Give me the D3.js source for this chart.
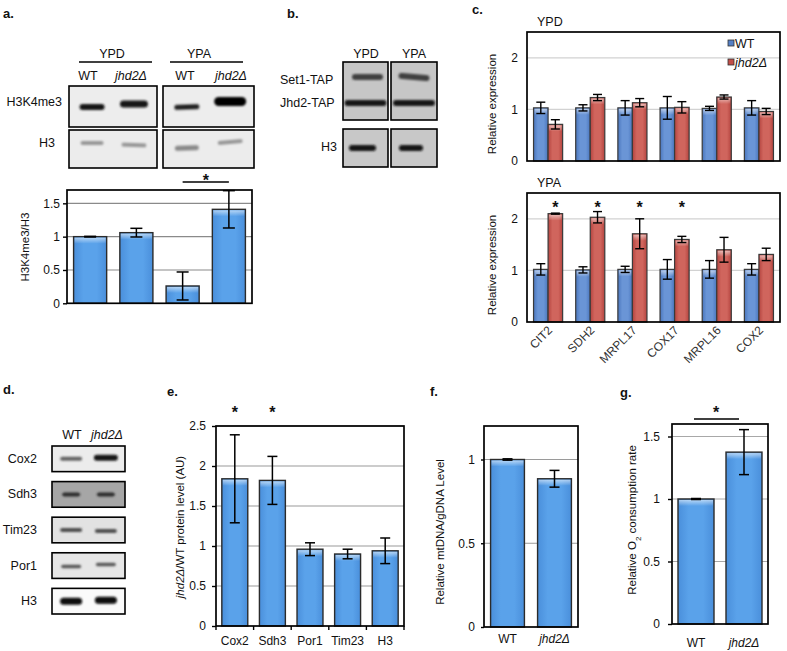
<!DOCTYPE html>
<html><head><meta charset="utf-8">
<script src="https://cdn.jsdelivr.net/npm/d3@7"></script>
<style>
body{margin:0;background:#fff}
svg{display:block}
text{font-family:"Liberation Sans",Arial,Helvetica,sans-serif}
</style>
</head><body>
<svg id="fig" width="787" height="651"></svg>
<script>
// ---------------- DATA ----------------
// Panel a (H3K4me3/H3 quantification)
const aCategories = ["YPD WT", "YPD jhd2Δ", "YPA WT", "YPA jhd2Δ"];
const aValues = [1.0, 1.06, 0.26, 1.41];
const aErrors = [0.005, 0.065, 0.21, 0.28];
const aTicks = [0, 0.5, 1, 1.5];

// Panel c (relative expression)
const cGenes = ["CIT2", "SDH2", "MRPL17", "COX17", "MRPL16", "COX2"];
const cSeries = ["WT", "jhd2Δ"];
const cYpdWT = [1.03, 1.03, 1.03, 1.03, 1.02, 1.03];
const cYpdWTErr = [0.11, 0.06, 0.14, 0.22, 0.04, 0.14];
const cYpdKO = [0.71, 1.23, 1.13, 1.04, 1.24, 0.96];
const cYpdKOErr = [0.09, 0.06, 0.08, 0.11, 0.04, 0.06];
const cYpaWT = [1.02, 1.01, 1.02, 1.02, 1.02, 1.02];
const cYpaWTErr = [0.11, 0.06, 0.06, 0.19, 0.17, 0.11];
const cYpaKO = [2.10, 2.03, 1.71, 1.60, 1.40, 1.31];
const cYpaKOErr = [0.01, 0.11, 0.29, 0.06, 0.24, 0.12];
const cYpaSig = [true, true, true, true, false, false];
const cTicks = [0, 1, 2];

// Panel e (protein level)
const eCategories = ["Cox2", "Sdh3", "Por1", "Tim23", "H3"];
const eValues = [1.84, 1.82, 0.96, 0.90, 0.94];
const eErrors = [0.55, 0.30, 0.08, 0.06, 0.16];
const eSig = [true, true, false, false, false];
const eTicks = [0, 0.5, 1, 1.5, 2, 2.5];

// Panel f (mtDNA/gDNA)
const fCategories = ["WT", "jhd2Δ"];
const fValues = [1.0, 0.885];
const fErrors = [0.004, 0.05];
const fTicks = [0, 0.5, 1];

// Panel g (O2 consumption)
const gCategories = ["WT", "jhd2Δ"];
const gValues = [1.0, 1.375];
const gErrors = [0.004, 0.18];
const gTicks = [0, 0.5, 1, 1.5];

// Blot band intensities (0..1 darkness) per lane
const aBlotK4 = [[0.92, 0.92], [0.9, 0.98]];
const aBlotH3 = [[0.5, 0.5], [0.55, 0.5]];
const bBlotSet1 = [0.8, 0.8];
const bBlotJhd2 = [0.93, 0.93];
const bBlotH3 = [0.94, 0.94];
const dProteins = ["Cox2", "Sdh3", "Tim23", "Por1", "H3"];
const dLanes = ["WT", "jhd2Δ"];
const dBlot = [[0.68, 0.92], [0.85, 0.85], [0.75, 0.75], [0.72, 0.72], [0.96, 0.97]];

// ---------------- SETUP ----------------
const FONT = '"Liberation Sans",Arial,Helvetica,sans-serif';
const svg = d3.select("#fig");
const defs = svg.append("defs");
const blur = defs.append("filter").attr("id", "blur")
  .attr("x", "-50%").attr("y", "-150%").attr("width", "200%").attr("height", "400%");
blur.append("feGaussianBlur").attr("stdDeviation", 1.1);

function hgrad(id, edge, mid) {
  const gr = defs.append("linearGradient").attr("id", id)
    .attr("x1", "0%").attr("x2", "100%").attr("y1", "0%").attr("y2", "0%");
  gr.append("stop").attr("offset", "0%").attr("stop-color", edge);
  gr.append("stop").attr("offset", "30%").attr("stop-color", mid);
  gr.append("stop").attr("offset", "70%").attr("stop-color", mid);
  gr.append("stop").attr("offset", "100%").attr("stop-color", edge);
}
hgrad("gBlue", "#4a8fdb", "#5aa2ea");
hgrad("gCBlue", "#4a76bd", "#6a95d6");
hgrad("gCRed", "#b4443f", "#d0655d");
const hl = defs.append("linearGradient").attr("id", "gHL")
  .attr("x1", "0").attr("x2", "0").attr("y1", "0").attr("y2", "1");
hl.append("stop").attr("offset", "0%").attr("stop-color", "#fff").attr("stop-opacity", 0.55);
hl.append("stop").attr("offset", "100%").attr("stop-color", "#fff").attr("stop-opacity", 0);

function txt(x, y, s, o = {}) {
  const t = svg.append("text").attr("x", x).attr("y", y).text(s)
    .attr("font-size", o.fs || 12).attr("fill", o.fill || "#111")
    .attr("text-anchor", o.anchor || "start");
  if (o.bold) t.attr("font-weight", "bold");
  if (o.italic) t.attr("font-style", "italic");
  return t;
}
function star(x, cy, fs = 16) {
  txt(x, cy + fs * 0.6, "*", { fs, anchor: "middle", bold: true });
}
function yLabel(x, cy, parts, fs = 11.5) {
  const t = svg.append("text").attr("transform", `translate(${x},${cy}) rotate(-90)`)
    .attr("text-anchor", "middle").attr("font-size", fs).attr("fill", "#111");
  parts.forEach(p => {
    const ts = t.append("tspan").text(p.t);
    if (p.i) ts.attr("font-style", "italic");
    if (p.sub) ts.attr("font-size", fs * 0.7).attr("baseline-shift", "sub");
  });
}

// generic frame + axis
function panel(o) {
  const g = svg.append("g").attr("transform", `translate(${o.left},${o.top})`);
  const y = d3.scaleLinear().domain([0, o.ymax]).range([o.h, 0]);
  const x = d3.scaleBand().domain(o.cats).range([0, o.w]).paddingInner(o.pad).paddingOuter(o.pad / 2);
  g.append("g").selectAll("line").data(o.ticks.filter(t => t > 0)).join("line")
    .attr("x1", 0).attr("x2", o.w).attr("y1", d => y(d)).attr("y2", d => y(d))
    .attr("stroke", o.gridColor).attr("stroke-width", 1.2);
  const ax = g.append("g").call(d3.axisLeft(y).tickValues(o.ticks).tickSize(o.tickSize)
    .tickPadding(o.tickPad).tickFormat(d => String(d)));
  ax.attr("font-family", FONT);
  ax.select(".domain").remove();
  ax.selectAll("text").attr("font-size", 12).attr("fill", "#111");
  ax.selectAll("line").attr("stroke", "#000").attr("stroke-width", 1.4);
  return { g, x, y };
}
function frame(p, w, h) {
  p.g.append("rect").attr("width", w).attr("height", h)
    .attr("fill", "none").attr("stroke", "#000").attr("stroke-width", 1.7);
}
function bars(g, data, xf, bw, y, fill, stroke, sw) {
  const b = g.append("g");
  b.selectAll("rect.bar").data(data).join("rect").attr("class", "bar")
    .attr("x", d => xf(d)).attr("width", bw)
    .attr("y", d => y(d.v)).attr("height", d => y(0) - y(d.v))
    .attr("fill", fill).attr("stroke", stroke).attr("stroke-width", sw);
  b.selectAll("rect.hl").data(data).join("rect").attr("class", "hl")
    .attr("x", d => xf(d) + 1).attr("width", bw - 2)
    .attr("y", d => y(d.v) + 1).attr("height", 6).attr("fill", "url(#gHL)");
}
function errs(g, data, cx, y, cap, sw = 1.5) {
  const e = g.append("g").attr("stroke", "#000").attr("stroke-width", sw);
  e.selectAll("line.v").data(data).join("line").attr("class", "v")
    .attr("x1", cx).attr("x2", cx).attr("y1", d => y(d.v + d.e)).attr("y2", d => y(d.v - d.e));
  e.selectAll("line.t").data(data).join("line").attr("class", "t")
    .attr("x1", d => cx(d) - cap / 2).attr("x2", d => cx(d) + cap / 2)
    .attr("y1", d => y(d.v + d.e)).attr("y2", d => y(d.v + d.e));
  e.selectAll("line.b").data(data).join("line").attr("class", "b")
    .attr("x1", d => cx(d) - cap / 2).attr("x2", d => cx(d) + cap / 2)
    .attr("y1", d => y(d.v - d.e)).attr("y2", d => y(d.v - d.e));
}

// blot helper
function blot(x, y, w, h, bg, bandsSpec) {
  const g = svg.append("g").attr("transform", `translate(${x},${y})`);
  g.append("rect").attr("width", w).attr("height", h).attr("fill", bg);
  const lanes = d3.scaleBand().domain(d3.range(bandsSpec.lanes)).range([0, w]).padding(0.1);
  g.selectAll("rect.band").data(bandsSpec.bands).join("rect").attr("class", "band")
    .attr("x", d => lanes(d.lane) + lanes.bandwidth() / 2 - d.w / 2 + (d.dx || 0))
    .attr("y", d => h / 2 + (d.dy || 0) - d.th / 2)
    .attr("width", d => d.w).attr("height", d => d.th)
    .attr("rx", d => d.th / 2)
    .attr("fill", d => d3.interpolateGreys(d.int))
    .attr("filter", "url(#blur)")
    .attr("transform", d => {
      const cx = lanes(d.lane) + lanes.bandwidth() / 2 + (d.dx || 0), cy = h / 2 + (d.dy || 0);
      return `rotate(${d.tilt || 0},${cx},${cy})`;
    });
  g.append("rect").attr("width", w).attr("height", h).attr("fill", "none")
    .attr("stroke", "#000").attr("stroke-width", 1.6);
}

// ---------------- PANEL A ----------------
txt(3, 18, "a.", { bold: true, fs: 13 });
txt(112, 58, "YPD", { anchor: "middle", fs: 12.5 });
txt(199, 58, "YPA", { anchor: "middle", fs: 12.5 });
svg.append("line").attr("x1", 79).attr("x2", 152).attr("y1", 62).attr("y2", 62).attr("stroke", "#000").attr("stroke-width", 1.3);
svg.append("line").attr("x1", 170).attr("x2", 243).attr("y1", 62).attr("y2", 62).attr("stroke", "#000").attr("stroke-width", 1.3);
txt(88, 80, "WT", { anchor: "middle", fs: 12.5 });
txt(131, 80, "jhd2Δ", { anchor: "middle", fs: 12.5, italic: true });
txt(185, 80, "WT", { anchor: "middle", fs: 12.5 });
txt(231, 80, "jhd2Δ", { anchor: "middle", fs: 12.5, italic: true });
txt(62, 106, "H3K4me3", { anchor: "end", fs: 12.5 });
txt(55, 147, "H3", { anchor: "end", fs: 12.5 });
blot(69, 86, 88, 41, "#ededed", { lanes: 2, bands: [
  { lane: 0, int: aBlotK4[0][0], w: 25, th: 6, dy: 0.5 },
  { lane: 1, int: aBlotK4[0][1], w: 28, th: 7, dy: -2.5 }] });
blot(163, 86, 91, 41, "#ededed", { lanes: 2, bands: [
  { lane: 0, int: aBlotK4[1][0], w: 25, th: 5, dy: 0.5, tilt: -2 },
  { lane: 1, int: aBlotK4[1][1], w: 32, th: 9, dy: -5 }] });
blot(69, 130, 88, 38, "#ececec", { lanes: 2, bands: [
  { lane: 0, int: aBlotH3[0][0], w: 23, th: 4, dy: -6 },
  { lane: 1, int: aBlotH3[0][1], w: 25, th: 4, dy: -4, tilt: 2 }] });
blot(163, 130, 91, 38, "#ececec", { lanes: 2, bands: [
  { lane: 0, int: aBlotH3[1][0], w: 24, th: 5, dy: -1, tilt: -2 },
  { lane: 1, int: aBlotH3[1][1], w: 25, th: 4, dy: -7, tilt: -5 }] });

{
  const W = 185, H = 113.3;
  const p = panel({ left: 67, top: 190, w: W, h: H, ymax: 1.7, cats: aCategories, pad: 0.285,
    ticks: aTicks, gridColor: "#8a8a8a", tickSize: 4, tickPad: 3 });
  const data = aCategories.map((c, i) => ({ c, v: aValues[i], e: aErrors[i] }));
  bars(p.g, data, d => p.x(d.c), p.x.bandwidth(), p.y, "url(#gBlue)", "#2b2b2b", 1.4);
  errs(p.g, data, d => p.x(d.c) + p.x.bandwidth() / 2, p.y, 12);
  frame(p, W, H);
  // significance between YPA WT and YPA jhd2
  const x1 = 67 + p.x("YPA WT") + p.x.bandwidth() / 2, x2 = 67 + p.x("YPA jhd2Δ") + p.x.bandwidth() / 2;
  svg.append("line").attr("x1", x1).attr("x2", x2).attr("y1", 182).attr("y2", 182).attr("stroke", "#000").attr("stroke-width", 1.5);
  star((x1 + x2) / 2, 176);
  yLabel(29, 247, [{ t: "H3K4me3/H3" }]);
}

// ---------------- PANEL B ----------------
txt(287, 18, "b.", { bold: true, fs: 13 });
txt(366, 58, "YPD", { anchor: "middle", fs: 12.5 });
txt(414, 58, "YPA", { anchor: "middle", fs: 12.5 });
txt(280, 84, "Set1-TAP", { fs: 12.5 });
txt(280, 107, "Jhd2-TAP", { fs: 12.5 });
txt(337, 151, "H3", { anchor: "end", fs: 12.5 });
blot(343, 62, 45, 58, "#c6c6c6", { lanes: 1, bands: [
  { lane: 0, int: bBlotSet1[0], w: 31, th: 6, dy: -14, dx: 2 },
  { lane: 0, int: bBlotJhd2[0], w: 42, th: 6, dy: 12 }] });
blot(391, 62, 46, 58, "#c6c6c6", { lanes: 1, bands: [
  { lane: 0, int: bBlotSet1[1], w: 31, th: 6, dy: -14, tilt: 5 },
  { lane: 0, int: bBlotJhd2[1], w: 42, th: 6, dy: 12 }] });
blot(343, 129, 45, 38, "#c8c8c8", { lanes: 1, bands: [
  { lane: 0, int: bBlotH3[0], w: 27, th: 6, dx: -3 }] });
blot(391, 129, 46, 38, "#c8c8c8", { lanes: 1, bands: [
  { lane: 0, int: bBlotH3[1], w: 24, th: 6, dx: -3 }] });

// ---------------- PANEL C ----------------
txt(472, 14, "c.", { bold: true, fs: 13 });
function cPanel(top, title, wt, wtE, ko, koE, sig) {
  const W = 253, H = 129;
  txt(537, top - 6, title, { fs: 12.5 });
  const p = panel({ left: 527, top, w: W, h: H, ymax: 2.5, cats: cGenes, pad: 0.31,
    ticks: cTicks, gridColor: "#d2d2d2", tickSize: 0, tickPad: 9 });
  const x1 = d3.scaleBand().domain(cSeries).range([0, p.x.bandwidth()]);
  const series = [
    { s: "WT", vals: wt, err: wtE, fill: "url(#gCBlue)" },
    { s: "jhd2Δ", vals: ko, err: koE, fill: "url(#gCRed)" }];
  series.forEach(se => {
    const data = cGenes.map((c, i) => ({ c, v: se.vals[i], e: se.err[i] }));
    bars(p.g, data, d => p.x(d.c) + x1(se.s), x1.bandwidth(), p.y, se.fill, "#3a3a3a", 1.2);
    errs(p.g, data, d => p.x(d.c) + x1(se.s) + x1.bandwidth() / 2, p.y, 9, 1.4);
  });
  frame(p, W, H);
  yLabel(496, top + 72, [{ t: "Relative expression" }]);
  if (sig) cGenes.forEach((c, i) => {
    if (sig[i]) star(527 + p.x(c) + x1("jhd2Δ") + x1.bandwidth() / 2, top + 10);
  });
  return p;
}
const cTop = cPanel(32, "YPD", cYpdWT, cYpdWTErr, cYpdKO, cYpdKOErr, null);
const cBot = cPanel(193, "YPA", cYpaWT, cYpaWTErr, cYpaKO, cYpaKOErr, cYpaSig);
// legend
{
  const lg = svg.append("g");
  const items = [{ s: "WT", fill: "#5580c6" }, { s: "jhd2Δ", fill: "#c24f48" }];
  lg.selectAll("rect").data(items).join("rect")
    .attr("x", 728).attr("y", (d, i) => 40 + i * 19).attr("width", 6).attr("height", 6)
    .attr("fill", d => d.fill).attr("stroke", "#333").attr("stroke-width", 0.8);
  lg.selectAll("text").data(items).join("text")
    .attr("x", 735).attr("y", (d, i) => 47.5 + i * 19).text(d => d.s)
    .attr("font-size", 12.5).attr("fill", "#111")
    .attr("font-style", d => d.s === "WT" ? "normal" : "italic");
}
// rotated gene labels
svg.append("g").selectAll("text").data(cGenes).join("text")
  .attr("transform", d => `translate(${527 + cBot.x(d) + cBot.x.bandwidth() / 2 + 5},${331}) rotate(-45)`)
  .attr("text-anchor", "end").attr("font-size", 12).attr("fill", "#333").text(d => d);

// ---------------- PANEL D ----------------
txt(3, 394, "d.", { bold: true, fs: 13 });
txt(72, 439, "WT", { anchor: "middle", fs: 12.5 });
txt(107, 439, "jhd2Δ", { anchor: "middle", fs: 12.5, italic: true });
{
  const rows = d3.scaleBand().domain(dProteins).range([446, 614]).paddingInner(0.28);
  const bgs = ["#ececec", "#a6a6a6", "#e2e2e2", "#e6e6e6", "#fafafa"];
  const ths = [[4, 6], [4, 4], [4, 4], [3.5, 3.5], [7, 7]];
  const ws = [[22, 24], [18, 18], [22, 22], [20, 20], [22, 22]];
  const dys = [[0, -1], [0, 0], [0, 1], [1, -1], [0, -1]];
  dProteins.forEach((pr, i) => {
    txt(37, rows(pr) + rows.bandwidth() / 2 + 4, pr, { anchor: "end", fs: 12.5 });
    blot(52, rows(pr), 73, rows.bandwidth(), bgs[i], { lanes: 2, bands: dLanes.map((l, j) => ({
      lane: j, int: dBlot[i][j], w: ws[i][j], th: ths[i][j], dy: dys[i][j] })) });
  });
}

// ---------------- PANEL E ----------------
txt(167, 396, "e.", { bold: true, fs: 13 });
{
  const W = 188, H = 200;
  const p = panel({ left: 216, top: 426, w: W, h: H, ymax: 2.5, cats: eCategories, pad: 0.31,
    ticks: eTicks, gridColor: "#9a9a9a", tickSize: 4, tickPad: 6 });
  const data = eCategories.map((c, i) => ({ c, v: eValues[i], e: eErrors[i] }));
  bars(p.g, data, d => p.x(d.c), p.x.bandwidth(), p.y, "url(#gBlue)", "#2b2b2b", 1.4);
  errs(p.g, data, d => p.x(d.c) + p.x.bandwidth() / 2, p.y, 10);
  frame(p, W, H);
  // category boundary ticks
  p.g.append("g").selectAll("line").data(d3.range(eCategories.length + 1)).join("line")
    .attr("x1", i => i * p.x.step()).attr("x2", i => i * p.x.step())
    .attr("y1", H).attr("y2", H + 4).attr("stroke", "#000").attr("stroke-width", 1.4);
  p.g.append("g").selectAll("text").data(eCategories).join("text")
    .attr("x", d => p.x(d) + p.x.bandwidth() / 2).attr("y", H + 19).attr("text-anchor", "middle")
    .attr("font-size", 12).attr("fill", "#111").text(d => d);
  eCategories.forEach((c, i) => { if (eSig[i]) star(216 + p.x(c) + p.x.bandwidth() / 2, 408); });
  yLabel(184, 527, [{ t: "jhd2Δ", i: true }, { t: "/WT protein level (AU)" }]);
}

// ---------------- PANEL F ----------------
txt(430, 396, "f.", { bold: true, fs: 13 });
{
  const W = 94, H = 201;
  const p = panel({ left: 484, top: 426, w: W, h: H, ymax: 1.2, cats: fCategories, pad: 0.28,
    ticks: fTicks, gridColor: "#9a9a9a", tickSize: 3, tickPad: 6 });
  const data = fCategories.map((c, i) => ({ c, v: fValues[i], e: fErrors[i] }));
  bars(p.g, data, d => p.x(d.c), p.x.bandwidth(), p.y, "url(#gBlue)", "#2b2b2b", 1.4);
  errs(p.g, data, d => p.x(d.c) + p.x.bandwidth() / 2, p.y, 10);
  frame(p, W, H);
  p.g.append("g").selectAll("text").data(fCategories).join("text")
    .attr("x", d => p.x(d) + p.x.bandwidth() / 2).attr("y", H + 16).attr("text-anchor", "middle")
    .attr("font-size", 12).attr("fill", "#111").attr("font-style", d => d === "WT" ? "normal" : "italic").text(d => d);
  yLabel(444, 532, [{ t: "Relative mtDNA/gDNA Level" }]);
}

// ---------------- PANEL G ----------------
txt(620, 397, "g.", { bold: true, fs: 13 });
{
  const W = 96, H = 200;
  const p = panel({ left: 672, top: 424, w: W, h: H, ymax: 1.6, cats: gCategories, pad: 0.25,
    ticks: gTicks, gridColor: "#a8a8a8", tickSize: 4, tickPad: 8 });
  const data = gCategories.map((c, i) => ({ c, v: gValues[i], e: gErrors[i] }));
  bars(p.g, data, d => p.x(d.c), p.x.bandwidth(), p.y, "url(#gBlue)", "#2b2b2b", 1.4);
  errs(p.g, data, d => p.x(d.c) + p.x.bandwidth() / 2, p.y, 10);
  frame(p, W, H);
  p.g.append("g").selectAll("text").data(gCategories).join("text")
    .attr("x", d => p.x(d) + p.x.bandwidth() / 2).attr("y", H + 23).attr("text-anchor", "middle")
    .attr("font-size", 12).attr("fill", "#111").attr("font-style", d => d === "WT" ? "normal" : "italic").text(d => d);
  svg.append("line").attr("x1", 694).attr("x2", 739).attr("y1", 419).attr("y2", 419).attr("stroke", "#000").attr("stroke-width", 1.5);
  star(716, 408);
  yLabel(636, 520, [{ t: "Relative  O" }, { t: "2", sub: true }, { t: " consumption rate" }]);
}
</script>
</body></html>
